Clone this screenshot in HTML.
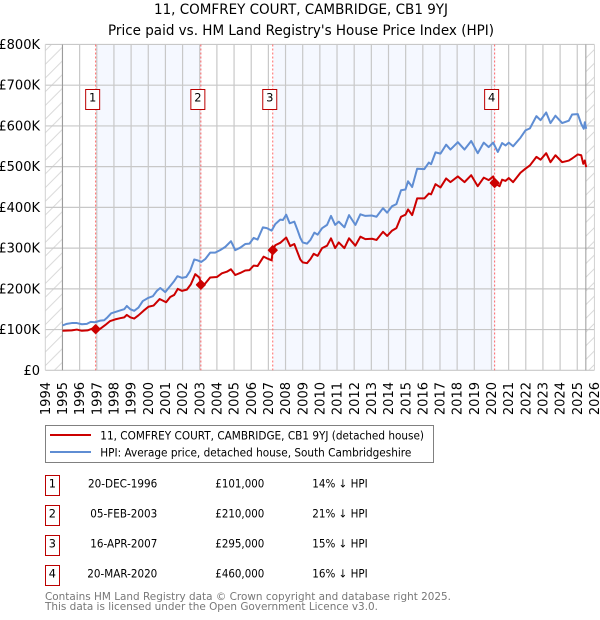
<!DOCTYPE html>
<html lang="en">
<head>
<meta charset="utf-8">
<title>11, COMFREY COURT, CAMBRIDGE, CB1 9YJ</title>
<style>
html,body{margin:0;padding:0;background:#fff;width:600px;height:620px;overflow:hidden}
svg{display:block;font-family:"DejaVu Sans","Liberation Sans",sans-serif}
</style>
</head>
<body>
<svg id="chart" xmlns="http://www.w3.org/2000/svg" width="600" height="620" viewBox="0 0 600 620">
  <defs>
    <pattern id="hatch" patternUnits="userSpaceOnUse" width="13.7" height="13.7">
      <path d="M-1,14.7 L14.7,-1 M-3,3 L3,-3 M10.7,16.7 L16.7,10.7" stroke="#d4d4d4" stroke-width="0.9" fill="none"/>
    </pattern>
  </defs>
  <text x="154" y="14" textLength="294" lengthAdjust="spacingAndGlyphs" font-size="14" fill="#000">11, COMFREY COURT, CAMBRIDGE, CB1 9YJ</text>
  <text x="108" y="35" textLength="386" lengthAdjust="spacingAndGlyphs" font-size="14" fill="#000">Price paid vs. HM Land Registry's House Price Index (HPI)</text>
  <g id="plot"></g>

  <g>
    <rect x="45.5" y="425.5" width="388" height="37" fill="#fff" stroke="#808080" stroke-width="1"/>
    <line x1="50" x2="91" y1="435" y2="435" stroke="#cc0000" stroke-width="2"/>
    <text x="100.3" y="439.5" textLength="323.7" lengthAdjust="spacingAndGlyphs" font-size="11.3" fill="#000">11, COMFREY COURT, CAMBRIDGE, CB1 9YJ (detached house)</text>
    <line x1="50" x2="91" y1="452" y2="452" stroke="#5f8dd3" stroke-width="2"/>
    <text x="100.3" y="456.5" textLength="311" lengthAdjust="spacingAndGlyphs" font-size="11.3" fill="#000">HPI: Average price, detached house, South Cambridgeshire</text>
  </g>

  <g font-size="11.3" fill="#000">
    <g>
      <rect x="45.5" y="475.5" width="14" height="20" fill="#fff" stroke="#bb0000" stroke-width="1"/>
      <text x="52.3" y="487.3" text-anchor="middle">1</text>
      <text x="88" y="487.3" textLength="69.3" lengthAdjust="spacingAndGlyphs">20-DEC-1996</text>
      <text x="215.3" y="487.3" textLength="49" lengthAdjust="spacingAndGlyphs">£101,000</text>
      <text x="312.3" y="487.3" textLength="55.4" lengthAdjust="spacingAndGlyphs">14% ↓ HPI</text>
    </g>
    <g>
      <rect x="45.5" y="505.5" width="14" height="20" fill="#fff" stroke="#bb0000" stroke-width="1"/>
      <text x="52.3" y="517.3" text-anchor="middle">2</text>
      <text x="90.3" y="517.3" textLength="67" lengthAdjust="spacingAndGlyphs">05-FEB-2003</text>
      <text x="215.3" y="517.3" textLength="49" lengthAdjust="spacingAndGlyphs">£210,000</text>
      <text x="312.3" y="517.3" textLength="55.4" lengthAdjust="spacingAndGlyphs">21% ↓ HPI</text>
    </g>
    <g>
      <rect x="45.5" y="535.5" width="14" height="20" fill="#fff" stroke="#bb0000" stroke-width="1"/>
      <text x="52.3" y="547.3" text-anchor="middle">3</text>
      <text x="90.3" y="547.3" textLength="67" lengthAdjust="spacingAndGlyphs">16-APR-2007</text>
      <text x="215.3" y="547.3" textLength="49" lengthAdjust="spacingAndGlyphs">£295,000</text>
      <text x="312.3" y="547.3" textLength="55.4" lengthAdjust="spacingAndGlyphs">15% ↓ HPI</text>
    </g>
    <g>
      <rect x="45.5" y="565.5" width="14" height="20" fill="#fff" stroke="#bb0000" stroke-width="1"/>
      <text x="52.3" y="577.3" text-anchor="middle">4</text>
      <text x="87.3" y="577.3" textLength="70" lengthAdjust="spacingAndGlyphs">20-MAR-2020</text>
      <text x="215.3" y="577.3" textLength="49" lengthAdjust="spacingAndGlyphs">£460,000</text>
      <text x="312.3" y="577.3" textLength="55.4" lengthAdjust="spacingAndGlyphs">16% ↓ HPI</text>
    </g>
  </g>

  <text x="45" y="600" textLength="406" lengthAdjust="spacingAndGlyphs" font-size="10.8" fill="#777">Contains HM Land Registry data © Crown copyright and database right 2025.</text>
  <text x="45" y="610" textLength="333" lengthAdjust="spacingAndGlyphs" font-size="10.8" fill="#777">This data is licensed under the Open Government Licence v3.0.</text>
</svg>
<script>
const yearTicks = [1994,1995,1996,1997,1998,1999,2000,2001,2002,2003,2004,2005,2006,2007,2008,2009,2010,2011,2012,2013,2014,2015,2016,2017,2018,2019,2020,2021,2022,2023,2024,2025,2026];
const valueTicks = [0,100,200,300,400,500,600,700,800];
const valueTickLabels = ['£0','£100K','£200K','£300K','£400K','£500K','£600K','£700K','£800K'];

const hpiDates = [1995.0,1995.25,1995.54,1995.84,1996.13,1996.42,1996.65,1996.9,1997.2,1997.43,1997.62,1997.84,1998.07,1998.36,1998.6,1998.75,1998.95,1999.18,1999.43,1999.68,2000.01,2000.27,2000.5,2000.7,2000.99,2001.28,2001.51,2001.7,2001.96,2002.21,2002.44,2002.68,2002.87,2003.09,2003.32,2003.61,2003.9,2004.19,2004.49,2004.82,2005.07,2005.36,2005.65,2005.9,2006.14,2006.37,2006.68,2006.91,2007.19,2007.4,2007.69,2007.85,2008.04,2008.24,2008.51,2008.7,2008.86,2009.0,2009.25,2009.45,2009.68,2009.87,2010.13,2010.42,2010.65,2010.89,2011.1,2011.43,2011.7,2012.07,2012.36,2012.65,2013.04,2013.3,2013.68,2013.92,2014.21,2014.46,2014.73,2014.99,2015.14,2015.38,2015.67,2016.09,2016.35,2016.48,2016.74,2017.03,2017.36,2017.61,2018.04,2018.43,2018.82,2019.2,2019.55,2019.84,2020.1,2020.37,2020.62,2020.82,2021.01,2021.26,2021.69,2021.98,2022.24,2022.62,2022.86,2023.19,2023.44,2023.73,2024.12,2024.51,2024.7,2025.03,2025.23,2025.38,2025.44,2025.52];
const hpiValues = [110,114,116,116,113,114,119,118,122,123,130,140,143,147,150,158,150,146,154,170,178,182,195,202,192,207,219,231,227,229,244,272,270,266,273,289,289,295,303,317,295,301,310,311,325,321,351,349,343,359,370,369,382,361,365,344,325,314,311,320,338,333,349,357,379,357,365,351,381,357,383,379,380,377,398,387,403,408,442,444,464,450,495,494,510,506,535,532,554,542,560,542,563,533,559,548,559,536,558,552,559,550,571,589,594,624,614,633,607,625,607,613,628,629,605,593,609,593];

const paidDates = [1995.0,1995.54,1995.84,1996.13,1996.46,1996.71,1996.94,1997.2,1997.49,1997.78,1998.07,1998.36,1998.6,1998.75,1998.95,1999.18,1999.43,1999.72,2000.01,2000.31,2000.66,2001.04,2001.28,2001.51,2001.72,2001.96,2002.25,2002.48,2002.74,2002.97,2003.12,2003.32,2003.61,2004.0,2004.29,2004.58,2004.82,2005.07,2005.36,2005.65,2005.9,2006.14,2006.37,2006.72,2006.91,2007.19,2007.25,2007.4,2007.69,2008.04,2008.27,2008.51,2008.86,2009.0,2009.25,2009.45,2009.64,2009.87,2010.13,2010.42,2010.65,2010.89,2011.1,2011.43,2011.7,2012.07,2012.36,2012.65,2013.04,2013.3,2013.68,2013.92,2014.21,2014.46,2014.73,2014.99,2015.14,2015.38,2015.67,2016.09,2016.35,2016.48,2016.74,2017.03,2017.36,2017.61,2018.04,2018.43,2018.82,2019.2,2019.55,2019.84,2020.1,2020.2,2020.47,2020.62,2020.82,2021.01,2021.26,2021.69,2021.98,2022.24,2022.62,2022.86,2023.19,2023.44,2023.73,2024.12,2024.51,2024.7,2025.03,2025.23,2025.35,2025.44,2025.52];
const paidValues = [97,98,100,97,98,102,100,102,111,121,125,128,130,136,130,127,135,146,156,159,175,167,180,185,200,195,198,211,236,228,209,213,228,229,238,242,248,234,239,245,246,257,256,279,275,270,293,307,313,326,305,310,272,265,263,273,286,281,300,306,324,300,314,300,324,306,328,322,323,320,340,330,343,349,377,382,395,381,422,422,434,432,457,449,471,462,476,462,479,452,473,467,476,459,452,468,465,472,462,485,495,503,524,517,533,511,528,511,515,520,530,528,507,515,499];

const saleDates = [1996.97,2003.1,2007.29,2020.22];
const salePrices = [101,210,295,460];
const saleLabels = ['1','2','3','4'];

const NS = 'http://www.w3.org/2000/svg';
const plot = document.getElementById('plot');
function xScale(year){ return 45.3 + (year - 1994) * 17.16; }
function yScale(value){ return 370.3 - value * 0.4073; }
function make(tag, attrs, parent){
  const el = document.createElementNS(NS, tag);
  for (const k in attrs) el.setAttribute(k, attrs[k]);
  (parent || plot).appendChild(el);
  return el;
}
function linePath(dates, values){
  return dates.map((d,i)=>(i?'L':'M')+xScale(d).toFixed(2)+','+yScale(values[i]).toFixed(2)).join(' ');
}

const left = xScale(1994), right = xScale(2026), top0 = yScale(800), bottom0 = yScale(0);
const dataStart = xScale(1995), dataEnd = xScale(2025.5);

// shaded bands between alternate sales
[[0,1],[2,3]].forEach(function(pair, i){
  const band = make('rect',{x:xScale(saleDates[pair[0]]),y:top0,width:xScale(saleDates[pair[1]])-xScale(saleDates[pair[0]]),height:bottom0-top0,fill:'#f5f8ff'});
  
  
});

// hatched regions outside the data range
const hatchL = make('rect',{x:left,y:top0,width:dataStart-left,height:bottom0-top0,fill:'url(#hatch)'});


const hatchR = make('rect',{x:dataEnd,y:top0,width:right-dataEnd,height:bottom0-top0,fill:'url(#hatch)'});



// gridlines
yearTicks.forEach(function(yr){
  if (yr === 1994 || yr === 2026) return;
  const g = make('line',{x1:xScale(yr),x2:xScale(yr),y1:top0,y2:bottom0,stroke:'#c8c8c8','stroke-width':1.2});
  
  
});
valueTicks.forEach(function(v){
  const g = make('line',{x1:left,x2:right,y1:yScale(v),y2:yScale(v),stroke:'#c8c8c8','stroke-width':1.2});
  
  
});
const edgeL = make('line',{x1:left,x2:left,y1:top0,y2:bottom0,stroke:'#d0d0d0','stroke-width':1});


const edgeR = make('line',{x1:right,x2:right,y1:top0,y2:bottom0,stroke:'#d0d0d0','stroke-width':1});


const startLine = make('line',{x1:dataStart,x2:dataStart,y1:top0,y2:bottom0,stroke:'#999','stroke-width':1});


const endLine = make('line',{x1:dataEnd,x2:dataEnd,y1:top0,y2:bottom0,stroke:'#999','stroke-width':1});



// sale date lines
saleDates.forEach(function(d){
  const l = make('line',{x1:xScale(d)-0.6,x2:xScale(d)-0.6,y1:top0,y2:bottom0,stroke:'#f66','stroke-width':1,'stroke-dasharray':'2 2'});
  
  
});

// axis tick labels
valueTicks.forEach(function(v,i){
  const t = make('text',{x:40,y:yScale(v)+4.5,'text-anchor':'end','font-size':13,fill:'#000'});
  
  
  t.textContent = valueTickLabels[i];
});
yearTicks.forEach(function(yr){
  const px = xScale(yr) + 4.6;
  const t = make('text',{x:px,y:382,'text-anchor':'end','font-size':13,fill:'#000',transform:'rotate(-90 '+px+' 382)'});
  
  
  t.textContent = yr;
});

// series
const hpiLine = make('path',{d:linePath(hpiDates,hpiValues),fill:'none',stroke:'#5f8dd3','stroke-width':2,'stroke-linejoin':'round'});


const paidLine = make('path',{d:linePath(paidDates,paidValues),fill:'none',stroke:'#cc0000','stroke-width':2,'stroke-linejoin':'round'});



// sale markers and numbered badges
saleDates.forEach(function(d,i){
  const cx = xScale(d) - 0.6, cy = yScale(salePrices[i]), r = 4.2;
  const m = make('polygon',{points:[cx,cy-r,cx+r,cy,cx,cy+r,cx-r,cy].join(' '),fill:'#cc0000',stroke:'#cc0000','stroke-width':1.6,'stroke-linejoin':'round'});
  
  
  const b = make('rect',{x:cx-10,y:89.5,width:14,height:20,fill:'#fff',stroke:'#bb0000','stroke-width':1});
  
  
  const t = make('text',{x:cx-3,y:101.3,'text-anchor':'middle','font-size':11.5,fill:'#000'});
  
  
  t.textContent = saleLabels[i];
});
</script>
</body>
</html>
